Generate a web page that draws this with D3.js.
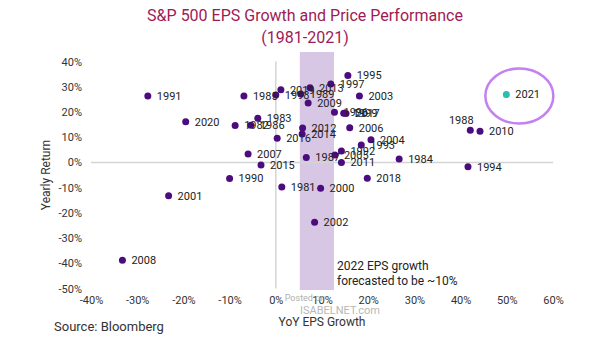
<!DOCTYPE html>
<html>
<head>
<meta charset="utf-8">
<script src="https://cdn.jsdelivr.net/npm/d3@7"></script>
<style>
  body { margin: 0; background: #fff; }
  svg { font-family: Roboto, "Noto Sans", sans-serif; }
</style>
</head>
<body>
<div id="chart"></div>
<script>
// Data (EPS growth %, yearly return %)
var years = ["1981","1982","1983","1984","1985","1986","1987","1988","1989","1990",
  "1991","1992","1993","1994","1995","1996","1997","1998","1999","2000",
  "2001","2002","2003","2004","2005","2006","2007","2008","2009","2010",
  "2011","2012","2013","2014","2015","2016","2017","2018","2019","2020","2021"];
var epsGrowth = [1.3, -8.8, -3.9, 26.7, -6.9, -5.4, 6.6, 42.1, 5.4, -10.0,
  -27.7, 14.2, 18.5, 41.6, 15.6, 12.7, 11.9, 0.0, 14.7, 9.7,
  -23.2, 8.4, 18.1, 20.6, 12.8, 16.0, -6.0, -33.2, 7.0, 44.2,
  14.2, 5.8, 7.4, 5.7, -3.2, 0.3, 15.2, 19.8, 1.1, -19.5, 49.9];
var yearlyReturn = [-9.8, 14.6, 17.5, 1.3, 26.3, 14.7, 1.9, 12.7, 27.1, -6.4,
  26.3, 4.5, 6.9, -1.7, 34.4, 19.9, 31.1, 26.7, 19.5, -10.3,
  -13.2, -23.7, 26.3, 9.0, 2.9, 13.7, 3.3, -38.8, 23.5, 12.3,
  0.0, 13.6, 29.6, 11.3, -1.0, 9.6, 19.4, -6.3, 28.8, 16.1, 26.9];
var xTicks = [-40, -30, -20, -10, 0, 10, 20, 30, 40, 50, 60];
var yTicks = [40, 30, 20, 10, 0, -10, -20, -30, -40, -50];
var forecastBand = [5.2, 12.6];   // 2022 forecast shaded band (EPS growth %)
var highlightYear = "2021";

var svgWidth = 605, svgHeight = 341;

var svg = d3.select("#chart").append("svg")
  .attr("width", svgWidth)
  .attr("height", svgHeight);

var xScale = d3.scaleLinear().domain([-40, 60]).range([91, 553]);
var yScale = d3.scaleLinear().domain([-50, 40]).range([288.5, 61.5]);

// Title
svg.append("text")
  .attr("x", 305).attr("y", 21)
  .attr("text-anchor", "middle")
  .attr("fill", "#9e1a55")
  .style("font-size", "16px")
  .text("S&P 500 EPS Growth and Price Performance");
svg.append("text")
  .attr("x", 305).attr("y", 43)
  .attr("text-anchor", "middle")
  .attr("fill", "#9e1a55")
  .style("font-size", "16px")
  .text("(1981-2021)");

// shaded band for the 2022 forecast
svg.append("rect")
  .attr("x", xScale(forecastBand[0]))
  .attr("y", 52)
  .attr("width", xScale(forecastBand[1]) - xScale(forecastBand[0]))
  .attr("height", 290 - 52)
  .attr("fill", "#d7c7e4");

// zero lines
svg.append("line")
  .attr("x1", xScale(-40)).attr("x2", xScale(60))
  .attr("y1", yScale(0)).attr("y2", yScale(0))
  .attr("stroke", "#d4d4d4").attr("stroke-width", 1.5);
svg.append("line")
  .attr("x1", xScale(0)).attr("x2", xScale(0))
  .attr("y1", yScale(40)).attr("y2", yScale(-50))
  .attr("stroke", "#d4d4d4").attr("stroke-width", 1.5);

// Axes (labels only)
var leftAxis = d3.axisLeft(yScale)
  .tickValues(yTicks)
  .tickSize(0)
  .tickPadding(0)
  .tickFormat(d => d + "%");
var yAxisG = svg.append("g")
  .attr("transform", "translate(82,0)")
  .call(leftAxis);

var bottomAxis = d3.axisBottom(xScale)
  .tickValues(xTicks)
  .tickSize(0)
  .tickPadding(0)
  .tickFormat(d => d + "%");
var xAxisG = svg.append("g")
  .attr("transform", "translate(0,296)")
  .call(bottomAxis);

[yAxisG, xAxisG].forEach(g => {
  g.select(".domain").remove();
  g.selectAll("text")
    .attr("fill", "#333")
    .style("font-size", "11px")
    .style("font-family", "Roboto, sans-serif");
});

// Axis titles
svg.append("text")
  .attr("transform", "translate(50,175) rotate(-90)")
  .attr("text-anchor", "middle")
  .attr("fill", "#333")
  .style("font-size", "12px")
  .text("Yearly Return");
svg.append("text")
  .attr("x", 322).attr("y", 326)
  .attr("text-anchor", "middle")
  .attr("fill", "#333")
  .style("font-size", "12px")
  .text("YoY EPS Growth");

svg.append("text")
  .attr("x", 54).attr("y", 331)
  .attr("fill", "#333")
  .style("font-size", "13px")
  .text("Source: Bloomberg");

// watermark
svg.append("text")
  .attr("x", 305).attr("y", 301)
  .attr("text-anchor", "middle")
  .attr("fill", "#b0b0b0")
  .style("font-size", "9px")
  .text("Posted on");
svg.append("text")
  .attr("x", 340).attr("y", 314)
  .attr("text-anchor", "middle")
  .attr("fill", "#b8b8b8")
  .style("font-size", "11px")
  .text("ISABELNET.com");

// annotation
svg.append("text")
  .attr("x", 337).attr("y", 270)
  .attr("fill", "#222")
  .style("font-size", "12px")
  .text("2022 EPS growth");
svg.append("text")
  .attr("x", 337).attr("y", 285)
  .attr("fill", "#222")
  .style("font-size", "12px")
  .text("forecasted to be ~10%");

// Scatter data
var data = years.map((y, i) => ({ year: y, eps: epsGrowth[i], ret: yearlyReturn[i] }));

var pointG = svg.append("g");
pointG.selectAll("circle")
  .data(data).enter()
  .append("circle")
  .attr("cx", d => xScale(d.eps))
  .attr("cy", d => yScale(d.ret))
  .attr("r", 3.5)
  .attr("fill", d => d.year === highlightYear ? "#2bbdb0" : "#4b0c7e");

pointG.selectAll("text.lbl")
  .data(data).enter()
  .append("text")
  .attr("class", "lbl")
  .attr("x", d => d.year === "1988" ? xScale(d.eps) - 9 : xScale(d.eps) + 9)
  .attr("y", d => d.year === "1988" ? yScale(d.ret) - 10 : yScale(d.ret))
  .attr("dy", "0.35em")
  .attr("text-anchor", d => d.year === "1988" ? "middle" : "start")
  .attr("fill", "#222")
  .style("font-size", "11px")
  .text(d => d.year);

// circle round 2021
var hl = data.find(d => d.year === highlightYear);
svg.append("ellipse")
  .attr("cx", xScale(hl.eps) + 13)
  .attr("cy", yScale(hl.ret) + 1.5)
  .attr("rx", 34)
  .attr("ry", 27.5)
  .attr("fill", "none")
  .attr("stroke", "#c47ff0")
  .attr("stroke-width", 2.5);
</script>
</body>
</html>
